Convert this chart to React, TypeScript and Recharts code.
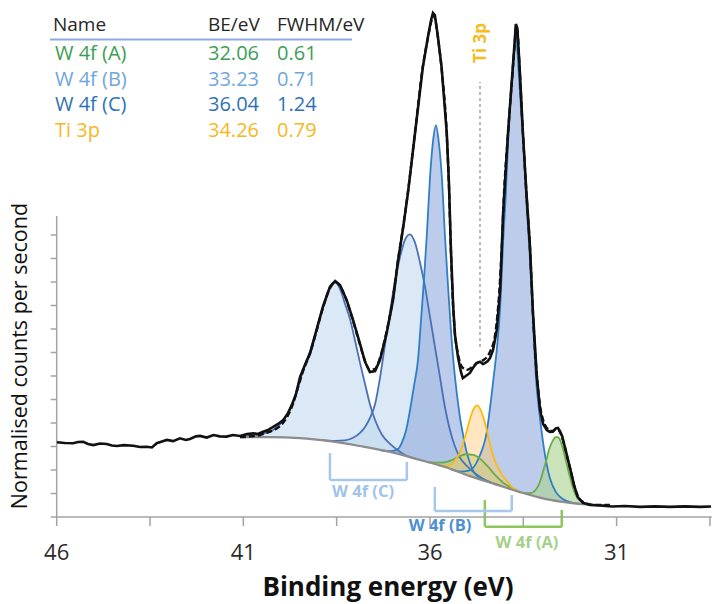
import React from 'react';
import { ComposedChart, Area, Line, XAxis, YAxis, ReferenceLine } from 'recharts';

type Pair = [number, number];
type Triple = [number, number, number]; // [binding energy, background, background + component]

// ---- axes ----
const X_TICKS = [46, 43.5, 41, 38.5, 36, 33.5, 31, 28.5];
const X_TICK_LABELS = [46, 41, 36, 31];
const Y_TICKS = [0, 1, 2, 3, 4, 5, 6, 7, 8, 9, 10, 11, 12];
const X_DOMAIN: Pair = [28.45, 46];
const Y_DOMAIN: Pair = [0, 21.574];
const Y_AXIS_TOP = 12.81;

// ---- fit results table ----
const FIT_NAMES = ['W 4f (A)', 'W 4f (B)', 'W 4f (C)', 'Ti 3p'];
const FIT_BE = ['32.06', '33.23', '36.04', '34.26'];
const FIT_FWHM = ['0.61', '0.71', '1.24', '0.79'];
const FIT_COLORS = ['#3d9e52', '#6fa6dc', '#2e72b5', '#f6b822'];

// ---- measured spectrum (counts, normalised) ----
const MEASURED: Pair[] = [
  [46.0, 3.18], [45.78, 3.15], [45.56, 3.14], [45.43, 3.19], [45.29, 3.2], [45.16, 3.11],
  [45.02, 3.06], [44.84, 3.13], [44.66, 3.11], [44.52, 3.04], [44.39, 3.02], [44.2, 3.06],
  [43.95, 3.03], [43.77, 2.98], [43.59, 2.99], [43.45, 2.96], [43.32, 3.14], [43.18, 3.21],
  [43.05, 3.28], [42.88, 3.23], [42.7, 3.35], [42.54, 3.28], [42.43, 3.32], [42.27, 3.43],
  [42.16, 3.45], [41.98, 3.38], [41.8, 3.49], [41.63, 3.43], [41.45, 3.42], [41.28, 3.49],
  [41.09, 3.45], [40.9, 3.53], [40.73, 3.56], [40.61, 3.53], [40.47, 3.63], [40.34, 3.7],
  [40.2, 3.84], [40.07, 3.96], [39.93, 4.13], [39.8, 4.43], [39.7, 4.77], [39.59, 5.23],
  [39.48, 5.96], [39.35, 6.47], [39.21, 6.98], [39.04, 7.96], [38.87, 8.94], [38.68, 9.79],
  [38.54, 10.04], [38.41, 9.87], [38.23, 9.23], [38.06, 8.38], [37.88, 7.4], [37.74, 6.6],
  [37.61, 6.17], [37.47, 6.21], [37.34, 6.68], [37.16, 7.83], [36.99, 9.23], [36.86, 10.85],
  [36.72, 12.3], [36.59, 13.79], [36.4, 16.34], [36.19, 19.15], [36.05, 20.47], [35.97, 21.15],
  [35.92, 21.45], [35.87, 21.36], [35.79, 20.47], [35.69, 19.15], [35.55, 16.34], [35.49, 14.13],
  [35.44, 11.45], [35.38, 9.02], [35.33, 7.74], [35.25, 6.81], [35.17, 6.17], [35.12, 5.91],
  [35.04, 6.0], [34.93, 6.13], [34.85, 6.34], [34.75, 6.55], [34.66, 6.61], [34.58, 6.51],
  [34.53, 6.55], [34.45, 6.64], [34.39, 6.77], [34.31, 7.11], [34.21, 7.96], [34.12, 9.66],
  [34.04, 12.94], [33.91, 16.34], [33.78, 19.15], [33.72, 20.47], [33.7, 20.98], [33.66, 20.81],
  [33.6, 19.19], [33.51, 16.34], [33.42, 13.91], [33.32, 11.49], [33.24, 8.68], [33.14, 6.04],
  [33.05, 4.55], [32.97, 3.96], [32.87, 3.7], [32.79, 3.62], [32.71, 3.63], [32.63, 3.77],
  [32.57, 3.79], [32.52, 3.66], [32.46, 3.45], [32.36, 2.81], [32.25, 2.09], [32.14, 1.36],
  [32.04, 0.85], [31.9, 0.6], [31.71, 0.51], [31.45, 0.49], [31.12, 0.45], [30.78, 0.47],
  [30.37, 0.43], [29.97, 0.45], [29.57, 0.43], [29.17, 0.45], [28.77, 0.43], [28.47, 0.45],
];

// ---- fitted envelope ----
const ENVELOPE: Pair[] = [
  [41.09, 3.4], [40.82, 3.43], [40.55, 3.49], [40.34, 3.6], [40.15, 3.72], [39.96, 3.96],
  [39.8, 4.34], [39.67, 4.81], [39.54, 5.49], [39.4, 6.21], [39.21, 6.98], [39.04, 7.91],
  [38.87, 8.89], [38.68, 9.74], [38.54, 10.0], [38.41, 9.83], [38.23, 9.19], [38.06, 8.34],
  [37.88, 7.36], [37.74, 6.64], [37.61, 6.26], [37.47, 6.3], [37.34, 6.77], [37.16, 7.91],
  [36.99, 9.32], [36.86, 10.89], [36.72, 12.34], [36.59, 13.83], [36.4, 16.38], [36.19, 19.19],
  [36.05, 20.43], [35.97, 21.06], [35.92, 21.32], [35.87, 21.23], [35.79, 20.43], [35.69, 19.11],
  [35.55, 16.26], [35.49, 14.0], [35.44, 11.36], [35.38, 8.98], [35.33, 7.79], [35.25, 6.94],
  [35.14, 6.38], [35.01, 6.26], [34.87, 6.38], [34.74, 6.55], [34.61, 6.64], [34.47, 6.81],
  [34.37, 7.11], [34.26, 7.7], [34.17, 9.02], [34.08, 11.36], [34.02, 13.66], [33.91, 16.3],
  [33.78, 19.11], [33.72, 20.38], [33.7, 20.85], [33.66, 20.72], [33.6, 19.15], [33.51, 16.3],
  [33.42, 13.87], [33.32, 11.4], [33.24, 8.6], [33.14, 6.09], [33.05, 4.72], [32.97, 4.13],
  [32.87, 3.79], [32.79, 3.66], [32.71, 3.66], [32.63, 3.74], [32.57, 3.72], [32.52, 3.62],
  [32.44, 3.28], [32.33, 2.6], [32.22, 1.91], [32.12, 1.23], [32.01, 0.81], [31.85, 0.6],
  [31.58, 0.51], [31.18, 0.51],
];

// ---- Shirley background ----
const BACKGROUND: Pair[] = [
  [41.09, 3.4], [40.29, 3.4], [39.48, 3.36], [38.68, 3.23], [37.88, 3.02], [37.07, 2.77],
  [36.27, 2.43], [35.6, 2.13], [34.93, 1.74], [34.26, 1.4], [33.59, 1.06], [32.92, 0.77],
  [32.25, 0.6], [31.45, 0.51], [31.18, 0.51],
];

// ---- fitted components ----
const W4F_C_HIGH: Triple[] = [
  [41.09, 3.4, 3.4], [40.69, 3.4, 3.49], [40.5, 3.4, 3.53], [40.21, 3.4, 3.7], [40.02, 3.39, 3.94],
  [39.83, 3.38, 4.36], [39.67, 3.37, 4.9], [39.48, 3.36, 5.83], [39.35, 3.34, 6.49], [39.21, 3.32, 7.06],
  [39.08, 3.3, 7.72], [38.95, 3.28, 8.47], [38.81, 3.26, 9.17], [38.68, 3.23, 9.79], [38.54, 3.2, 10.01],
  [38.41, 3.16, 9.71], [38.28, 3.13, 9.09], [38.14, 3.09, 8.41], [38.01, 3.06, 7.52], [37.88, 3.02, 6.6],
  [37.74, 2.98, 5.66], [37.61, 2.94, 4.81], [37.47, 2.89, 4.13], [37.29, 2.83, 3.51], [37.07, 2.77, 3.11],
  [36.88, 2.69, 2.86], [36.67, 2.6, 2.64], [36.4, 2.48, 2.48],
];
const W4F_C_LOW: Triple[] = [
  [38.95, 3.28, 3.28], [38.54, 3.2, 3.24], [38.28, 3.13, 3.26], [38.06, 3.07, 3.37], [37.88, 3.02, 3.57],
  [37.74, 2.98, 3.83], [37.61, 2.94, 4.21], [37.47, 2.89, 4.81], [37.34, 2.85, 5.91], [37.21, 2.81, 7.28],
  [37.07, 2.77, 8.72], [36.94, 2.71, 10.03], [36.8, 2.65, 11.08], [36.67, 2.6, 11.79], [36.54, 2.54, 12.03],
  [36.4, 2.48, 11.67], [36.27, 2.43, 10.85], [36.13, 2.37, 9.77], [36.0, 2.31, 8.52], [35.87, 2.25, 7.27],
  [35.73, 2.19, 5.93], [35.6, 2.13, 4.68], [35.46, 2.05, 3.67], [35.33, 1.97, 3.0], [35.2, 1.9, 2.54],
  [35.01, 1.79, 2.17], [34.79, 1.68, 1.85], [34.53, 1.54, 1.58], [34.12, 1.34, 1.34],
];
const W4F_B_HIGH: Triple[] = [
  [37.31, 2.84, 2.84], [37.04, 2.75, 2.8], [36.86, 2.68, 2.89], [36.75, 2.63, 3.18], [36.64, 2.58, 3.69],
  [36.54, 2.54, 4.5], [36.43, 2.49, 5.56], [36.32, 2.45, 6.7], [36.24, 2.41, 8.37], [36.16, 2.38, 10.12],
  [36.08, 2.34, 12.13], [36.0, 2.31, 14.43], [35.92, 2.27, 15.97], [35.84, 2.23, 16.66], [35.76, 2.2, 15.9],
  [35.68, 2.16, 14.42], [35.6, 2.13, 12.0], [35.52, 2.08, 9.91], [35.44, 2.04, 7.99], [35.36, 1.99, 6.42],
  [35.28, 1.94, 5.26], [35.2, 1.9, 4.28], [35.12, 1.85, 3.55], [35.04, 1.81, 2.91], [34.93, 1.74, 2.3],
  [34.82, 1.69, 1.9], [34.63, 1.59, 1.64], [34.37, 1.46, 1.46],
];
const W4F_B_LOW: Triple[] = [
  [35.44, 2.04, 2.04], [35.17, 1.88, 1.93], [34.96, 1.76, 1.97], [34.77, 1.66, 2.26], [34.66, 1.61, 2.63],
  [34.58, 1.57, 2.97], [34.5, 1.53, 3.44], [34.39, 1.47, 4.66], [34.29, 1.42, 6.01], [34.21, 1.38, 7.12],
  [34.12, 1.34, 8.91], [34.04, 1.3, 11.72], [33.96, 1.25, 14.02], [33.91, 1.23, 15.91], [33.86, 1.2, 17.37],
  [33.78, 1.16, 18.95], [33.7, 1.12, 20.52], [33.62, 1.08, 18.86], [33.54, 1.04, 16.87], [33.48, 1.02, 15.7],
  [33.43, 0.99, 13.76], [33.37, 0.97, 12.25], [33.32, 0.94, 10.94], [33.24, 0.91, 8.36], [33.16, 0.87, 5.89],
  [33.08, 0.84, 4.58], [33.0, 0.8, 3.53], [32.89, 0.76, 2.38], [32.79, 0.73, 1.67], [32.63, 0.69, 1.07],
  [32.44, 0.64, 0.77], [32.22, 0.59, 0.62], [32.0, 0.57, 0.57],
];
const W4F_A_HIGH: Triple[] = [
  [36.05, 2.33, 2.33], [35.86, 2.24, 2.31], [35.64, 2.15, 2.32], [35.43, 2.03, 2.41], [35.24, 1.92, 2.56],
  [35.05, 1.82, 2.67], [34.84, 1.7, 2.64], [34.63, 1.59, 2.44], [34.44, 1.5, 2.13], [34.25, 1.4, 1.78],
  [34.04, 1.29, 1.46], [33.82, 1.18, 1.25], [33.63, 1.09, 1.09],
];
const W4F_A_LOW: Triple[] = [
  [33.54, 1.04, 1.04], [33.32, 0.94, 1.01], [33.16, 0.87, 1.17], [33.05, 0.83, 1.51], [32.97, 0.79, 1.94],
  [32.89, 0.76, 2.38], [32.81, 0.74, 2.87], [32.73, 0.72, 3.19], [32.65, 0.7, 3.38], [32.6, 0.68, 3.41],
  [32.54, 0.67, 3.35], [32.46, 0.65, 3.03], [32.38, 0.63, 2.54], [32.3, 0.61, 2.01], [32.22, 0.59, 1.53],
  [32.14, 0.59, 1.1], [32.04, 0.57, 0.79], [31.93, 0.56, 0.65], [31.79, 0.55, 0.58], [31.58, 0.52, 0.52],
];
const TI_3P: Triple[] = [
  [35.8, 2.22, 2.22], [35.67, 2.16, 2.18], [35.53, 2.09, 2.17], [35.4, 2.01, 2.27], [35.29, 1.95, 2.5],
  [35.21, 1.91, 2.71], [35.13, 1.86, 3.05], [35.05, 1.81, 3.47], [34.97, 1.77, 3.94], [34.89, 1.72, 4.36],
  [34.81, 1.68, 4.66], [34.73, 1.64, 4.75], [34.65, 1.6, 4.58], [34.57, 1.56, 4.24], [34.49, 1.52, 3.78],
  [34.41, 1.48, 3.22], [34.33, 1.44, 2.71], [34.25, 1.4, 2.33], [34.17, 1.36, 2.08], [34.06, 1.3, 1.77],
  [33.92, 1.23, 1.49], [33.79, 1.17, 1.25], [33.6, 1.07, 1.07],
];

// ---- doublet brackets and Ti 3p marker ----
const BRACKET_NAMES = ['W 4f (C)', 'W 4f (B)', 'W 4f (A)'];
const BRACKET_LEFT = [38.68, 35.87, 34.53];
const BRACKET_RIGHT = [36.62, 33.81, 32.47];
const BRACKET_LEFT_TOP = [2.72, 1.28, 0.72];
const BRACKET_RIGHT_TOP = [2.35, 0.94, 0.3];
const BRACKET_BOTTOM = [1.57, 0.26, -0.41];
const BRACKET_COLORS = ['#a6c8ea', '#a6c8ea', '#8cc65c'];
const BRACKET_TEXT_COLORS = ['#9fc4e8', '#4e90d2', '#a7d08a'];
const BRACKET_TEXT_POS: Pair[] = [[363, 497], [440, 531], [527, 548]];
const TI_MARKER = { e: 34.66, from: 7.23, to: 18.51 };

const FONT = "'Open Sans', 'Noto Sans', sans-serif";
const AXIS_GRAY = '#a3a3a3';

const toPts = (arr: Pair[]) => arr.map(([e, v]) => ({ e, v }));
const toBand = (arr: Triple[]) => arr.map(([e, lo, hi]) => ({ e, band: [lo, hi], top: hi }));

const COMPONENTS = [
  { key: 'c1', rows: W4F_C_HIGH, fill: '#bdd7ee', op: 0.55, stroke: '#4a70b6' },
  { key: 'c2', rows: W4F_C_LOW, fill: '#bdd7ee', op: 0.55, stroke: '#4a70b6' },
  { key: 'b1', rows: W4F_B_HIGH, fill: '#8faadc', op: 0.6, stroke: '#2f7fc6' },
  { key: 'b2', rows: W4F_B_LOW, fill: '#8faadc', op: 0.6, stroke: '#2f7fc6' },
  { key: 'a2', rows: W4F_A_HIGH, fill: '#a9d18e', op: 0.6, stroke: '#6aac46' },
  { key: 'ti', rows: TI_3P, fill: '#ffc874', op: 0.45, stroke: '#f8bb14' },
  { key: 'a1', rows: W4F_A_LOW, fill: '#a9d18e', op: 0.6, stroke: '#6aac46' },
];

const XTick = (props: any) => {
  const { x, payload } = props;
  if (!X_TICK_LABELS.includes(payload.value)) return <g />;
  return (
    <text x={x} y={560} textAnchor="middle" fontSize={22} fill="#2b2b2b" fontFamily={FONT}>
      {payload.value}
    </text>
  );
};

export default function App() {
  return (
    <div style={{ position: 'absolute', left: 0, top: 0, width: 720, height: 604, background: '#fff' }}>
      <ComposedChart width={720} height={604} margin={{ top: 10, right: 8.2, bottom: 57, left: 46.7 }}>
        <XAxis
          type="number"
          dataKey="e"
          domain={X_DOMAIN}
          reversed
          allowDataOverflow
          ticks={X_TICKS}
          interval={0}
          height={30}
          tickSize={9}
          axisLine={{ stroke: AXIS_GRAY, strokeWidth: 1.5 }}
          tickLine={{ stroke: AXIS_GRAY, strokeWidth: 1.5 }}
          tick={<XTick />}
        />
        <YAxis
          type="number"
          domain={Y_DOMAIN}
          allowDataOverflow
          ticks={Y_TICKS}
          interval={0}
          width={10}
          tickSize={6}
          axisLine={false}
          tickLine={{ stroke: AXIS_GRAY, strokeWidth: 1.5 }}
          tickFormatter={() => ''}
        />
        <ReferenceLine
          segment={[{ x: 46, y: 0 }, { x: 46, y: Y_AXIS_TOP }]}
          stroke={AXIS_GRAY}
          strokeWidth={1.5}
          ifOverflow="visible"
        />

        {COMPONENTS.map((c) => (
          <Area
            key={`fill-${c.key}`}
            data={toBand(c.rows)}
            dataKey="band"
            type="monotone"
            fill={c.fill}
            fillOpacity={c.op}
            stroke="none"
            isAnimationActive={false}
          />
        ))}
        {COMPONENTS.map((c) => (
          <Line
            key={`line-${c.key}`}
            data={toBand(c.rows)}
            dataKey="top"
            type="monotone"
            stroke={c.stroke}
            strokeWidth={1.8}
            dot={false}
            activeDot={false}
            isAnimationActive={false}
          />
        ))}
        <Line
          data={toPts(BACKGROUND)}
          dataKey="v"
          type="monotone"
          stroke="#8c8c8c"
          strokeWidth={2.2}
          dot={false}
          activeDot={false}
          isAnimationActive={false}
        />

        {BRACKET_NAMES.map((n, i) => (
          <ReferenceLine
            key={`bl-${n}`}
            segment={[{ x: BRACKET_LEFT[i], y: BRACKET_LEFT_TOP[i] }, { x: BRACKET_LEFT[i], y: BRACKET_BOTTOM[i] }]}
            stroke={BRACKET_COLORS[i]}
            strokeWidth={2.5}
            ifOverflow="visible"
          />
        ))}
        {BRACKET_NAMES.map((n, i) => (
          <ReferenceLine
            key={`bb-${n}`}
            segment={[{ x: BRACKET_LEFT[i], y: BRACKET_BOTTOM[i] }, { x: BRACKET_RIGHT[i], y: BRACKET_BOTTOM[i] }]}
            stroke={BRACKET_COLORS[i]}
            strokeWidth={2.5}
            ifOverflow="visible"
          />
        ))}
        {BRACKET_NAMES.map((n, i) => (
          <ReferenceLine
            key={`br-${n}`}
            segment={[{ x: BRACKET_RIGHT[i], y: BRACKET_RIGHT_TOP[i] }, { x: BRACKET_RIGHT[i], y: BRACKET_BOTTOM[i] }]}
            stroke={BRACKET_COLORS[i]}
            strokeWidth={2.5}
            ifOverflow="visible"
          />
        ))}
        <ReferenceLine
          segment={[{ x: TI_MARKER.e, y: TI_MARKER.from }, { x: TI_MARKER.e, y: TI_MARKER.to }]}
          stroke="#a6a6a6"
          strokeWidth={1.6}
          strokeDasharray="3 3"
          ifOverflow="visible"
        />

        <Line
          data={toPts(MEASURED)}
          dataKey="v"
          type="linear"
          stroke="#111"
          strokeWidth={2.6}
          dot={false}
          activeDot={false}
          isAnimationActive={false}
        />
        <Line
          data={toPts(ENVELOPE)}
          dataKey="v"
          type="monotone"
          stroke="#111"
          strokeWidth={2.4}
          strokeDasharray="6 3"
          dot={false}
          activeDot={false}
          isAnimationActive={false}
        />
      </ComposedChart>

      <svg
        width={720}
        height={604}
        style={{ position: 'absolute', left: 0, top: 0, pointerEvents: 'none' }}
        fontFamily={FONT}
      >
        {/* fit results table */}
        <text x={53} y={31} fontSize={19} fill="#262626">Name</text>
        <text x={208} y={31} fontSize={19} fill="#262626">BE/eV</text>
        <text x={277} y={31} fontSize={19} fill="#262626">FWHM/eV</text>
        <line x1={50} x2={352} y1={39.5} y2={39.5} stroke="#8eaadb" strokeWidth={2} />
        {FIT_NAMES.map((n, i) => (
          <g key={n} fill={FIT_COLORS[i]} fontSize={20}>
            <text x={55} y={60 + i * 25.5}>{n}</text>
            <text x={208} y={60 + i * 25.5}>{FIT_BE[i]}</text>
            <text x={277} y={60 + i * 25.5}>{FIT_FWHM[i]}</text>
          </g>
        ))}

        {/* Ti 3p marker label */}
        <text transform="translate(486,43) rotate(-90)" textAnchor="middle" fontSize={17} fontWeight={700} fill="#f6bc1c">
          Ti 3p
        </text>

        {/* doublet labels */}
        {BRACKET_NAMES.map((n, i) => (
          <text
            key={`t-${n}`}
            x={BRACKET_TEXT_POS[i][0]}
            y={BRACKET_TEXT_POS[i][1]}
            textAnchor="middle"
            fontSize={16.5}
            fontWeight={700}
            fill={BRACKET_TEXT_COLORS[i]}
          >
            {n}
          </text>
        ))}

        {/* axis titles */}
        <text transform="translate(27,356) rotate(-90)" textAnchor="middle" fontSize={21.5} fill="#111">
          Normalised counts per second
        </text>
        <text x={388} y={596} textAnchor="middle" fontSize={26} fontWeight={700} fill="#111">
          Binding energy (eV)
        </text>
      </svg>
    </div>
  );
}
